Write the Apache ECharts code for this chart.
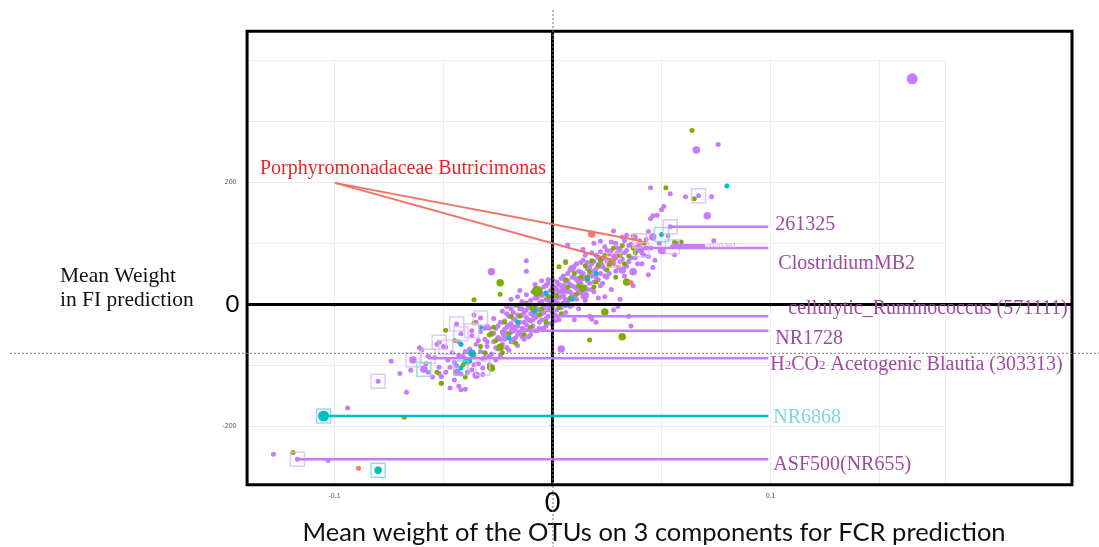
<!DOCTYPE html>
<html>
<head>
<meta charset="utf-8">
<script src="https://cdn.jsdelivr.net/npm/echarts@6/dist/echarts.min.js"></script>
<style>
  html, body { margin: 0; padding: 0; background: #fff; }
  #chart { width: 1099px; height: 547px; }
</style>
</head>
<body>
<div id="chart"></div>
<script>
// Each OTU: [mean weight for FCR (3 components), mean weight in FI prediction, size class 1..3]
const purplePts = [
  [0.165,370,3],[0.066,253,2],[0.076,262,1],[0.045,191,1],[0.054,181,1],[0.061,176,1],[0.073,176,1],
  [0.067,178,1],[0.071,145,2],[0.051,160,1],[0.050,155,1],[0.048,146,1],[0.046,145,1],[0.045,140,1],
  [0.044,119,1],[0.046,110,2],[0.054,127,1],[0.074,104,1],[0.056,81,1],[0.055,94,1],[0.041,89,1],
  [0.022,103,1],[0.034,113,1],[0.038,110,1],[0.007,97,1],
  [-0.028,53,2],[-0.012,71,1],[-0.012,54,1],[-0.002,40,1],[-0.003,31,1],
  [-0.128,-247,1],[-0.117,-255,1],[-0.103,-257,1],[-0.094,-171,1],[-0.080,-127,1],[-0.067,-145,1],
  [-0.074,-94,1],[-0.070,-114,1],[-0.065,-109,1],[-0.064,-92,2],[-0.059,-107,2],[-0.057,-86,1],
  [-0.061,-72,1],[-0.052,-114,1],[-0.051,-119,1],[-0.043,-135,1],[-0.042,-141,1],[-0.035,-117,2],
  [-0.032,-105,1],[0.004,-74,2],[0.018,-25,1],
  [-0.052,-63,1],[-0.049,-71,1],[-0.044,-33,1],[-0.042,-49,1],[-0.037,-44,1],[-0.033,-23,1],
  [-0.060,-75,1],[-0.058,-98,1],[-0.055,-120,1],[-0.054,-88,1],[-0.052,-104,1],[-0.051,-130,1],
  [-0.050,-70,1],[-0.049,-112,1],[-0.048,-92,1],[-0.047,-138,1],[-0.046,-80,1],[-0.045,-125,1],
  [-0.044,-101,1],[-0.043,-62,1],[-0.042,-115,1],[-0.041,-86,1],[-0.040,-140,1],[-0.039,-96,1],
  [-0.038,-74,1],[-0.057,-112,1],[-0.053,-66,1],
  [-0.037,-52,1],[-0.037,-108,1],[-0.036,-84,1],[-0.035,-30,1],[-0.035,-66,1],[-0.034,-98,1],
  [-0.033,-45,1],[-0.033,-78,1],[-0.032,-116,1],[-0.031,-58,1],[-0.031,-88,1],[-0.030,-36,1],
  [-0.030,-70,1],[-0.029,-100,1],[-0.028,-50,1],[-0.028,-82,1],[-0.027,-24,1],[-0.027,-62,1],
  [-0.026,-92,1],[-0.026,-40,1],[-0.025,-74,1],[-0.025,-55,1],[-0.024,-30,1],[-0.024,-86,1],
  [-0.036,-18,1],
  [-0.023,-12,1],[-0.023,-46,1],[-0.023,-66,1],[-0.022,-28,1],[-0.022,-58,1],[-0.021,-4,1],
  [-0.021,-38,1],[-0.021,-72,1],[-0.020,-20,1],[-0.020,-50,1],[-0.019,8,1],[-0.019,-32,1],
  [-0.019,-62,1],[-0.018,-14,1],[-0.018,-44,1],[-0.017,-2,1],[-0.017,-26,1],[-0.017,-56,1],
  [-0.016,12,1],[-0.016,-36,1],[-0.016,-68,1],[-0.015,-8,1],[-0.015,-48,1],[-0.014,-18,1],
  [-0.014,-40,1],[-0.014,4,1],[-0.013,-30,1],[-0.013,-58,1],[-0.012,-10,1],[-0.012,-22,1],
  [-0.012,15,1],[-0.011,-42,1],[-0.011,-4,1],[-0.020,-76,1],[-0.015,22,1],
  [-0.010,-28,1],[-0.010,6,1],[-0.010,-50,1],[-0.009,20,1],[-0.009,-14,1],[-0.009,-36,1],
  [-0.008,-2,1],[-0.008,-22,1],[-0.008,32,1],[-0.007,10,1],[-0.007,-44,1],[-0.007,-8,1],
  [-0.006,24,1],[-0.006,-30,1],[-0.006,2,1],[-0.005,-16,1],[-0.005,14,1],[-0.005,38,1],
  [-0.004,-6,1],[-0.004,-40,1],[-0.004,28,1],[-0.003,8,1],[-0.003,-24,1],[-0.003,18,1],
  [-0.002,-10,1],[-0.002,34,1],[-0.002,-2,1],[-0.001,12,1],[-0.001,-32,1],[-0.001,22,1],
  [0.000,-4,1],[0.000,6,1],[0.000,40,1],[0.001,-18,1],[0.001,16,1],[0.001,28,1],
  [0.002,2,1],[0.002,-10,1],[0.002,36,1],[0.003,20,1],[0.003,-26,1],[0.003,10,1],
  [0.004,30,1],[0.004,-6,1],[0.005,46,1],[0.005,14,1],[0.006,24,1],[0.006,-14,1],
  [0.007,38,1],[0.007,4,1],[0.008,56,1],[0.008,20,1],[0.009,30,1],[0.009,-2,1],
  [0.010,44,1],[0.010,12,1],[0.011,66,1],[0.011,26,1],[0.012,36,1],[0.012,-8,1],
  [0.013,52,1],[0.013,18,1],[0.014,42,1],[0.014,72,1],[0.015,28,1],[0.015,6,1],
  [0.016,58,1],[0.016,38,1],[0.017,48,1],[0.017,-20,1],[0.018,66,1],[0.018,24,1],
  [0.019,54,1],[0.019,36,1],[0.020,80,1],[0.020,44,1],[0.021,62,1],[0.021,10,1],
  [0.022,50,1],[0.006,70,1],[0.010,-26,1],[0.014,90,1],[0.019,100,1],
  [0.023,74,1],[0.023,34,1],[0.024,58,1],[0.025,88,1],[0.025,44,1],[0.026,66,1],
  [0.027,102,1],[0.027,24,1],[0.028,78,1],[0.029,54,1],[0.030,92,1],[0.030,-4,1],
  [0.031,70,1],[0.032,110,1],[0.033,84,1],[0.033,46,1],[0.034,62,1],[0.035,96,1],
  [0.036,76,1],[0.037,112,1],[0.037,30,1],[0.038,88,1],[0.039,66,1],[0.040,100,1],
  [0.028,120,1],[0.035,-20,1],[0.031,8,1],[0.024,12,1],[0.028,-10,1],[0.020,-30,1],
  [0.042,80,1],[0.043,106,1],[0.045,92,1],[0.047,72,1],[0.049,100,1],[0.051,86,1],
  [0.053,112,1],[0.057,100,1],[0.046,60,1],[0.036,-36,1],[0.044,48,1],[0.041,66,1],
  [0.030,82,2],[0.012,40,2],[-0.008,-20,2],[0.000,10,2],[0.022,64,2],[-0.018,-40,2],
  [0.009,58,2],[-0.044,-112,2],[0.015,14,2],[0.040,90,2],[0.050,88,2],[0.032,56,2],
  [0.037,53,2],[-0.022,-50,2],[0.005,22,2],
  [-0.030,-62,1],[-0.029,-40,1],[-0.027,-48,1],[-0.026,-72,1],[-0.025,-36,1],[-0.024,-58,1],
  [-0.023,-30,1],[-0.022,-42,1],[-0.021,-16,1],[-0.021,-54,1],[-0.020,-34,1],[-0.019,-46,1],
  [-0.019,-8,1],[-0.018,-24,1],[-0.018,-58,1],[-0.017,-38,1],[-0.016,-18,1],[-0.016,-50,1],
  [-0.015,-30,1],[-0.014,-54,1],[-0.014,-8,1],[-0.013,-42,1],[-0.013,-14,1],[-0.012,-34,1],
  [-0.012,2,1],[-0.011,-26,1],[-0.011,-54,1],[-0.010,-16,1],[-0.010,-38,1],[-0.009,-2,1],
  [-0.009,-26,1],[-0.008,10,1],[-0.008,-44,1],[-0.007,-18,1],[-0.007,20,1],[-0.006,-10,1],
  [-0.006,-40,1],[-0.005,4,1],[-0.005,-26,1],[-0.004,16,1],[-0.004,-14,1],[-0.003,-36,1],
  [-0.003,30,1],[-0.002,-20,1],[-0.002,6,1],[-0.001,-8,1],[-0.001,2,1],[0.000,-14,1],
  [0.000,28,1],[0.001,6,1],[0.001,-28,1],[0.002,24,1],[0.002,-20,1],[0.003,0,1],
  [0.003,32,1],[0.004,12,1],[0.004,42,1],[0.005,2,1],[0.005,30,1],[0.006,36,1],
  [0.006,8,1],[0.007,20,1],[0.007,50,1],[0.008,32,1],[0.008,-4,1],[0.009,44,1],
  [0.009,16,1],[0.010,28,1],[0.010,62,1],[0.011,40,1],[0.011,8,1],[0.012,54,1],
  [0.012,22,1],[0.013,34,1],[0.013,68,1],[0.014,50,1],[0.014,12,1],[0.015,44,1],
  [0.015,80,1],[0.016,24,1],[0.016,68,1],[0.017,34,1],[0.017,60,1],[0.018,46,1],
  [0.018,84,1],[0.019,70,1],[0.019,20,1],[0.020,58,1],[0.021,76,1],[0.021,40,1],
  [0.022,86,1],[0.022,30,1],[0.023,62,1],[0.024,94,1],[0.024,46,1],[0.025,70,1],
  [0.026,82,1],[0.026,50,1],[0.027,88,1],[0.028,66,1],[0.029,100,1],[0.029,76,1],
  [0.030,60,1],[0.031,90,1],[0.032,74,1],[0.033,104,1],[0.034,88,1],[0.035,70,1],
  [0.036,98,1],[0.038,76,1],[0.039,94,1],[0.041,84,1],[0.043,92,1],[0.044,78,1],
  [-0.040,-78,1],[-0.039,-112,1],[-0.036,-100,1],[-0.034,-60,1],[-0.032,-90,1],[-0.031,-40,1],
  [-0.029,-86,1],[-0.045,-96,1],[-0.047,-104,1],[-0.043,-84,1]
];
const greenPts = [
  [0.064,285,1],[0.052,191,1],[0.065,173,1],[0.056,102,1],[0.059,102,1],[-0.024,35,2],
  [-0.024,16,1],[-0.036,7,1],[0.017,-59,1],[0.024,-13,2],[-0.068,-186,1],[-0.119,-244,1],
  [-0.049,-43,1],[-0.036,-31,1],[-0.053,-112,1],[-0.051,-130,1],[-0.029,-104,1],[-0.038,-94,1],
  [-0.024,-71,2],[-0.028,-105,2],[-0.029,-51,1],[-0.028,-48,1],[-0.007,21,3],[0.003,61,1],
  [0.018,71,1],[0.021,64,1],[0.006,68,1],[0.015,63,1],[0.028,92,1],[0.031,80,1],
  [0.035,79,1],[0.034,36,2],[0.032,-54,2],[-0.015,-20,1],[-0.010,-38,1],[-0.005,-8,1],
  [0.000,22,1],[0.004,-16,1],[0.008,10,1],[0.012,30,1],[0.016,44,1],[0.020,36,1],
  [0.024,80,1],[0.026,64,1],[0.032,96,1],[-0.020,-48,1],[-0.026,-60,1],[-0.012,0,1],
  [0.006,40,1],[-0.003,-30,1],[0.010,50,1],[-0.017,-64,1],[0.038,84,1],[0.042,100,1],
  [-0.031,-80,1],[-0.022,-30,1],[0.014,26,2],[-0.009,-6,2],[0.002,14,1],[-0.040,-120,1],
  [-0.033,-70,1],[-0.027,-38,1],[-0.023,-80,1],[-0.019,-20,1],[-0.016,-2,1],[-0.013,-50,1],
  [-0.006,-18,1],[-0.002,12,1],[0.003,-6,1],[0.007,28,1],[0.011,16,1],[0.013,44,1],
  [0.017,54,1],[0.019,28,1],[0.022,72,1],[0.025,56,1],[0.027,70,1],[0.029,44,1],
  [0.033,66,1],[0.037,92,1],[-0.045,-60,1],[-0.041,-100,1]
];
const cyanPts = [
  [0.080,194,1],[0.050,114,1],[-0.033,-38,1],[-0.042,-66,1],[-0.037,-81,2],[-0.040,-94,1],
  [-0.038,-92,1],[-0.042,-105,1],[-0.080,-273,2],[-0.105,-184,3],[0.016,41,1],[0.006,-2,1],
  [-0.016,-30,1],[-0.003,18,1],[0.009,8,1],[-0.008,-12,1],[0.020,50,1],[-0.020,-56,1]
];
const redPts = [
  [0.018,115,2],[0.036,35,1],[-0.089,-270,1],[0.040,104,1],[0.028,72,1]
];

// Highlighted OTUs (open squares)
const purpleBoxes = [
  [0.067,178],[0.054,127],[0.055,94],[0.041,89],[-0.117,-255],[-0.080,-127],[-0.064,-92],
  [-0.057,-86],[-0.052,-63],[-0.049,-71],[-0.044,-33],[-0.042,-49],[-0.037,-44],[-0.033,-23],
  [-0.032,-105]
];
const cyanBoxes = [[0.050,114],[-0.105,-184],[-0.080,-273],[-0.059,-107],[-0.042,-105]];
const redBoxes = [[0.040,104],[0.028,72]];

// Named OTUs: leader line from the OTU to the label column
const annoNames = ['261325', 'ClostridiumMB2', 'cellulytic_Ruminococcus (571111)', 'NR1728',
  'H2CO2 Acetogenic Blautia (303313)', 'NR6868', 'ASF500(NR655)'];
const annoY = [127, 92, -20, -44, -89, -184, -255];
const annoFrom = [0.054, 0.041, 0.002, -0.020, -0.057, -0.105, -0.117];
const annoGroup = ['p', 'p', 'p', 'p', 'p', 'c', 'p'];
const annoTo = 0.099;
const minorName = 'c020381';
const minorLine = [[0.055, 96], [0.070, 96]];

// Porphyromonadaceae Butricimonas leaders
const redName = 'Porphyromonadaceae Butricimonas';
const redAnchor = [-0.0998, 199];
const redTargets = [[0.040, 104], [0.028, 72]];

// Axis ticks
const xTickValues = [-0.1, 0, 0.1];
const xTickLabels = ['-0.1', '0', '0.1'];
const yTickValues = [-200, 0, 200];
const yTickLabels = ['-200', '0', '200'];

// Frame and guide
const frameX = [-0.1401, 0.2383];
const frameY = [-297, 448];
const guideY = -81;

const COL = { p: '#C77CFF', g: '#7CAE00', c: '#00BFC4', r: '#F8766D' };
const TXT = { p: '#9e4aa3', c: '#80d8d8', r: '#e8262a' };
const SERIF = "'Liberation Serif', 'Times New Roman', serif";
const SANS = "Lato, 'Open Sans', sans-serif";
const SIZE_BY_CLASS = [0, 5, 7.5, 11];

const chart = echarts.init(document.getElementById('chart'), null, { renderer: 'canvas' });

function pointSeries(data, color, z) {
  return {
    type: 'scatter', data, xAxisIndex: 0, yAxisIndex: 0, symbol: 'circle',
    symbolSize: v => SIZE_BY_CLASS[v[2]], itemStyle: { color, opacity: 1 }, silent: true, z
  };
}
function boxSeries(data, color) {
  return {
    type: 'scatter', data, xAxisIndex: 0, yAxisIndex: 0, symbol: 'rect', symbolSize: 14,
    itemStyle: { color: 'rgba(0,0,0,0)', borderColor: color, borderWidth: 1.5 }, silent: true, z: 5
  };
}
function segSeries(pts, color, width, z) {
  return {
    type: 'line', data: pts, xAxisIndex: 0, yAxisIndex: 0, symbol: 'none', showSymbol: false,
    lineStyle: { color, width }, silent: true, z
  };
}

const series = [
  pointSeries(purplePts, COL.p, 2),
  pointSeries(greenPts, COL.g, 3),
  pointSeries(cyanPts, COL.c, 4),
  pointSeries(redPts, COL.r, 4),
  boxSeries(purpleBoxes, '#d9bdf3'),
  boxSeries(cyanBoxes, '#7fd3d5'),
  boxSeries(redBoxes, '#f6b3ab')
];
annoNames.forEach((n, i) => {
  series.push(segSeries([[annoFrom[i], annoY[i]], [annoTo, annoY[i]]], COL[annoGroup[i]], 2.5, 6));
});
series.push(segSeries(minorLine, COL.p, 3, 6));
redTargets.forEach(t => series.push(segSeries([redAnchor, t], '#f07468', 2, 6)));

// Frame box and the two thick zero axes
series.push({
  type: 'scatter', data: [[0, 0]], symbolSize: 0, xAxisIndex: 0, yAxisIndex: 0, silent: true, z: 10,
  markArea: {
    silent: true,
    itemStyle: { color: 'rgba(0,0,0,0)', borderColor: '#000', borderWidth: 3 },
    data: [[{ coord: [frameX[0], frameY[1]] }, { coord: [frameX[1], frameY[0]] }]]
  },
  markLine: {
    silent: true, symbol: 'none', label: { show: false },
    lineStyle: { color: '#000', width: 3, type: 'solid' },
    data: [
      [{ coord: [frameX[0], 0] }, { coord: [frameX[1], 0] }],
      [{ coord: [0, frameY[1]] }, { coord: [0, frameY[0]] }]
    ]
  }
});

function tickFmt(values, labels) {
  return v => {
    const i = values.findIndex(t => Math.abs(t - v) < 1e-9);
    if (i < 0) return '';
    return v === 0 ? '{big|' + labels[i] + '}' : '{small|' + labels[i] + '}';
  };
}

const option = {
  animation: false,
  backgroundColor: '#fff',
  grid: [
    { left: 225.5, right: 1.5, top: 30.1, bottom: 60.4 },
    { left: 247, right: 154.1, top: 60.5, bottom: 62.2 }
  ],
  xAxis: [
    {
      type: 'value', gridIndex: 0, min: -0.15, max: 0.25,
      axisLine: { show: false }, splitLine: { show: false },
      axisTick: { show: true, customValues: [-0.1, 0.1], length: 3, lineStyle: { color: '#999' } },
      axisLabel: {
        customValues: xTickValues, margin: 4, formatter: tickFmt(xTickValues, xTickLabels),
        rich: {
          small: { fontSize: 7, color: '#555', fontFamily: 'Arial, sans-serif', padding: [2, 0, 0, 0] },
          big: { fontSize: 27, color: '#000', fontFamily: SANS, lineHeight: 26 }
        }
      }
    },
    {
      type: 'value', gridIndex: 1, min: frameX[0], max: 0.18,
      axisLine: { show: false }, axisTick: { show: false }, axisLabel: { show: false },
      splitLine: { show: true, showMinLine: false, showMaxLine: true, lineStyle: { color: '#ececec', width: 1 } }
    }
  ],
  yAxis: [
    {
      type: 'value', gridIndex: 0, min: -300, max: 450, offset: -17,
      axisLine: { show: false }, splitLine: { show: false },
      axisTick: { show: true, customValues: [-200, 200], length: 3, lineStyle: { color: '#999' } },
      axisLabel: {
        customValues: yTickValues, margin: 3, formatter: tickFmt(yTickValues, yTickLabels),
        rich: {
          small: { fontSize: 7, color: '#555', fontFamily: 'Arial, sans-serif', padding: [0, 3, 0, 0] },
          big: { fontSize: 24, color: '#000', fontFamily: SANS }
        }
      }
    },
    {
      type: 'value', gridIndex: 1, min: frameY[0], max: 400,
      axisLine: { show: false }, axisTick: { show: false }, axisLabel: { show: false },
      splitLine: { show: true, showMinLine: false, showMaxLine: true, lineStyle: { color: '#ececec', width: 1 } }
    }
  ],
  series
};
chart.setOption(option);

// Text annotations placed from the data coordinates of their leaders
const toPx = p => chart.convertToPixel({ gridIndex: 0 }, p);
const labelOffsets = [[7, -2], [10, 16], [20, -7], [7, 8], [2, 7], [5, 2], [5, 6]];
const graphic = [];
annoNames.forEach((name, i) => {
  const p = toPx([annoTo, annoY[i]]);
  const fill = TXT[annoGroup[i]];
  const base = {
    type: 'text', x: p[0] + labelOffsets[i][0], y: p[1] + labelOffsets[i][1], z: 30, silent: true,
    style: { text: name, font: '20px ' + SERIF, fill, textAlign: 'left', textVerticalAlign: 'middle' }
  };
  if (name.startsWith('H2CO2')) {
    base.style.text = '{n|H}{s|2}{n|CO}{s|2}{n|' + name.slice(5) + '}';
    base.style.rich = {
      n: { fontSize: 20, fontFamily: SERIF, fill, color: fill, height: 22 },
      s: { fontSize: 13, fontFamily: SERIF, fill, color: fill, verticalAlign: 'bottom', height: 22, lineHeight: 22 }
    };
  }
  graphic.push(base);
});
const mp = toPx(minorLine[1]);
graphic.push({
  type: 'text', x: mp[0] + 1, y: mp[1], z: 30, silent: true,
  style: { text: minorName, font: '8px Arial, sans-serif', fill: '#c9a6e6', textAlign: 'left', textVerticalAlign: 'middle' }
});
const ra = toPx(redAnchor);
graphic.push({
  type: 'text', x: ra[0] - 75, y: ra[1] - 14, z: 30, silent: true,
  style: { text: redName, font: '20px ' + SERIF, fill: TXT.r, textAlign: 'left', textVerticalAlign: 'middle' }
});
graphic.push({
  type: 'text', x: 60, y: 276, z: 30, silent: true,
  style: { text: 'Mean Weight', font: '21.5px ' + SERIF, fill: '#111', textAlign: 'left', textVerticalAlign: 'middle' }
});
graphic.push({
  type: 'text', x: 60, y: 300, z: 30, silent: true,
  style: { text: 'in FI prediction', font: '21.5px ' + SERIF, fill: '#111', textAlign: 'left', textVerticalAlign: 'middle' }
});
graphic.push({
  type: 'text', x: 654, y: 533, z: 30, silent: true,
  style: { text: 'Mean weight of the OTUs on 3 components for FCR prediction', font: '25.5px ' + SANS,
    fill: '#111', textAlign: 'center', textVerticalAlign: 'middle' }
});
// Dashed guides through the origin column and the lower reference row
const g = toPx([0, guideY]);
graphic.push({
  type: 'line', z: 40, silent: true, shape: { x1: g[0] + 0.5, y1: 10, x2: g[0] + 0.5, y2: 547 },
  style: { stroke: '#777', lineWidth: 1, lineDash: [2, 2] }
});
graphic.push({
  type: 'line', z: 40, silent: true, shape: { x1: 10, y1: g[1], x2: 1099, y2: g[1] },
  style: { stroke: '#777', lineWidth: 1, lineDash: [2, 2] }
});
chart.setOption({ graphic });
</script>
</body>
</html>
